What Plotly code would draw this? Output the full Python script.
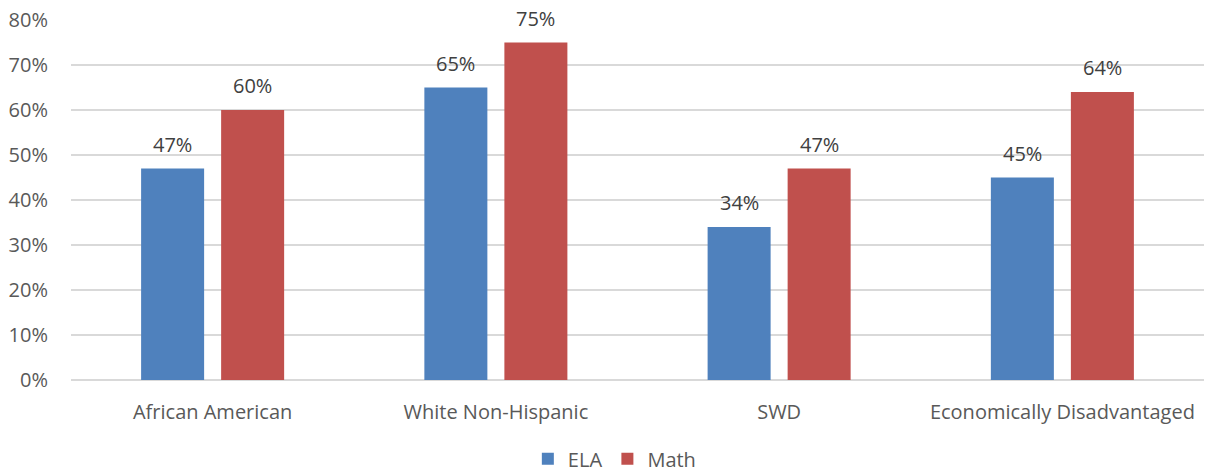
import plotly.graph_objects as go

categories = ["African American", "White Non-Hispanic", "SWD", "Economically Disadvantaged"]
ela = [0.47, 0.65, 0.34, 0.45]
math_vals = [0.60, 0.75, 0.47, 0.64]
y_ticks = [0, 0.1, 0.2, 0.3, 0.4, 0.5, 0.6, 0.7, 0.8]

FONT = "Open Sans"
ELA_COLOR = "#4F81BD"
MATH_COLOR = "#C0504D"

fig = go.Figure()
fig.add_trace(go.Bar(name="ELA", x=categories, y=ela,
                     marker=dict(color=ELA_COLOR, line=dict(width=0))))
fig.add_trace(go.Bar(name="Math", x=categories, y=math_vals,
                     marker=dict(color=MATH_COLOR, line=dict(width=0))))

# data labels above bars
for series, shift in ((ela, -40), (math_vals, 40)):
    for cat, v in zip(categories, series):
        fig.add_annotation(x=cat, y=v, text=f"{v*100:.0f}%", showarrow=False,
                           xshift=shift, yshift=9, yanchor="bottom",
                           font=dict(family=FONT, size=20, color="#404040"))

fig.update_layout(
    width=1206, height=474,
    margin=dict(l=71, r=2, t=20, b=94, autoexpand=False),
    paper_bgcolor="white", plot_bgcolor="white",
    barmode="group", bargap=0.435, bargroupgap=0.2125,
    font=dict(family=FONT, size=20, color="#595959"),
    showlegend=True,
    legend=dict(orientation="h", x=0.48, xanchor="center",
                yref="container", y=0.032, yanchor="middle",
                font=dict(family=FONT, size=20, color="#595959"),
                itemwidth=30, tracegroupgap=0),
)
fig.update_xaxes(showgrid=False, showline=False, ticks="", ticklabelstandoff=18,
                 tickfont=dict(size=20, color="#595959"))
fig.update_yaxes(range=[0, 0.8], tickvals=y_ticks, tickformat=".0%",
                 showgrid=True, gridcolor="#D9D9D9", gridwidth=1.5,
                 zeroline=True, zerolinecolor="#D9D9D9", zerolinewidth=1.5,
                 showline=False, ticks="", ticklabelstandoff=22,
                 tickfont=dict(size=20, color="#595959"))

fig.write_html("out.html")
